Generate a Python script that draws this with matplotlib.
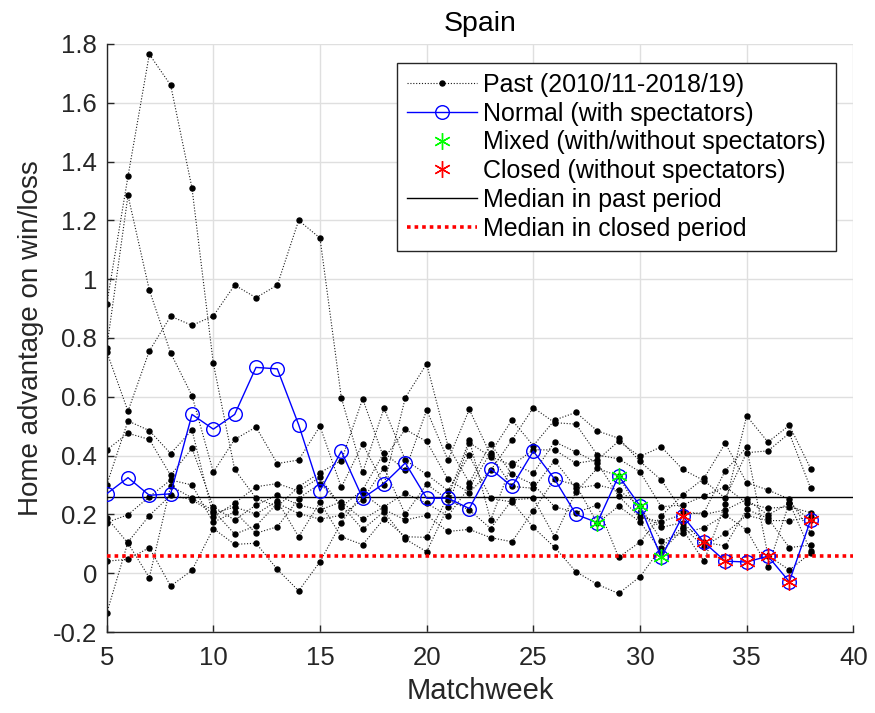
import matplotlib
matplotlib.use("Agg")
import matplotlib.pyplot as plt
from matplotlib.ticker import FuncFormatter

plt.rcParams['font.family'] = ['Liberation Sans', 'DejaVu Sans']

matchweeks = list(range(5, 39))

# Past seasons 2010/11 - 2018/19
past_s0 = [0.914, 1.35, 1.765, 1.66, 1.31, 0.714, 0.353, 0.255, 0.226, 0.294, 0.342, 0.383, 0.593, 0.39, 0.489, 0.448, 0.319,
           0.274, 0.35, 0.453, 0.563, 0.512, 0.507, 0.402, 0.389, 0.345, 0.226, 0.232, 0.263, 0.294, 0.238, 0.221, 0.226, 0.206]
past_s1 = [0.754, 0.551, 0.756, 0.874, 0.843, 0.875, 0.98, 0.937, 0.98, 1.2, 1.14, 0.597, 0.343, 0.561, 0.385, 0.336, 0.281,
           0.401, 0.255, 0.242, 0.156, 0.088, 0.005, -0.038, -0.069, -0.012, 0.087, 0.158, 0.09, 0.136, 0.197, 0.179, 0.179, 0.19]
past_s2 = [0.765, 1.285, 0.963, 0.749, 0.604, 0.344, 0.455, 0.497, 0.373, 0.385, 0.50, 0.292, 0.44, 0.30, 0.597, 0.712, 0.433,
           0.308, 0.44, 0.336, 0.302, 0.226, 0.206, 0.232, 0.054, 0.106, 0.195, 0.266, 0.323, 0.442, 0.308, 0.283, 0.252, 0.138]
past_s3 = [0.419, 0.476, 0.455, 0.333, 0.425, 0.226, 0.181, 0.232, 0.266, 0.232, 0.215, 0.243, 0.183, 0.226, 0.272, 0.238, 0.195,
           0.292, 0.41, 0.521, 0.434, 0.521, 0.547, 0.484, 0.459, 0.38, 0.317, 0.21, 0.20, 0.215, 0.251, 0.198, 0.238, 0.18]
past_s4 = [0.30, 0.518, 0.485, 0.407, 0.487, 0.192, 0.238, 0.294, 0.305, 0.28, 0.326, 0.226, 0.283, 0.41, 0.35, 0.555, 0.385,
           0.557, 0.402, 0.295, 0.289, 0.383, 0.289, 0.30, 0.283, 0.228, 0.111, 0.136, 0.155, 0.198, 0.147, 0.02, 0.24, 0.075]
past_s5 = [0.189, 0.102, -0.015, 0.297, 0.256, 0.213, 0.133, 0.161, 0.238, 0.203, 0.184, 0.197, 0.25, 0.359, 0.20, 0.303, 0.25,
           0.215, 0.152, 0.249, 0.255, 0.124, 0.277, 0.357, 0.33, 0.206, 0.156, 0.172, 0.105, 0.093, 0.217, 0.187, 0.087, 0.096]
past_s6 = [0.172, 0.199, 0.26, 0.317, 0.30, 0.173, 0.209, 0.136, 0.158, 0.254, 0.305, 0.232, 0.149, 0.209, 0.116, 0.073, 0.226,
           0.444, 0.396, 0.367, 0.42, 0.419, 0.374, 0.385, 0.449, 0.397, 0.43, 0.353, 0.315, 0.255, 0.41, 0.416, 0.476, 0.289]
past_s7 = [0.041, 0.047, 0.087, -0.044, 0.01, 0.152, 0.098, 0.102, 0.013, -0.06, 0.039, 0.172, 0.272, 0.217, 0.181, 0.197, 0.142,
           0.149, 0.121, 0.107, 0.213, 0.32, 0.30, 0.17, 0.228, 0.175, 0.073, 0.149, 0.041, 0.235, 0.535, 0.446, 0.503, 0.356]
past_s8 = [-0.137, 0.106, 0.196, 0.265, 0.25, 0.204, 0.225, 0.201, 0.246, 0.124, 0.241, 0.124, 0.097, 0.185, 0.124, 0.122, 0.26,
           0.453, 0.18, 0.374, 0.34, 0.447, 0.412, 0.376, 0.262, 0.19, 0.175, 0.20, 0.206, 0.349, 0.428, 0.06, 0.011, 0.068]
past_seasons = [past_s0, past_s1, past_s2, past_s3, past_s4, past_s5, past_s6, past_s7, past_s8]

# Current season 2019/20
current = [0.27, 0.325, 0.265, 0.27, 0.54, 0.49, 0.54, 0.70, 0.695, 0.505, 0.28, 0.415, 0.255, 0.305, 0.375, 0.255, 0.255,
           0.22, 0.355, 0.295, 0.415, 0.32, 0.20, 0.172, 0.331, 0.229, 0.054, 0.195, 0.105, 0.041, 0.038, 0.058, -0.029, 0.181]
mixed_weeks = [28, 29, 30, 31]
closed_weeks = [32, 33, 34, 35, 36, 37, 38]

past_median = 0.259

fig = plt.figure(figsize=(8.75, 7.13), dpi=100)
ax = fig.add_axes([0.1219, 0.1136, 0.8533, 0.8247])

dark = '#262626'
for i, s in enumerate(past_seasons):
    ax.plot(matchweeks, s, color='#1a1a1a', lw=0.8, linestyle=(0, (1, 1.6)), marker='o', ms=3.6,
            mfc='black', mec='black', zorder=2, label='Past (2010/11-2018/19)' if i == 0 else None)

ax.plot(matchweeks, current, color='blue', lw=1.0, marker='o', ms=9.8, mfc='none', mec='blue', mew=1.0,
        zorder=4, label='Normal (with spectators)')

mixed_vals = [current[matchweeks.index(w)] for w in mixed_weeks]
closed_vals = [current[matchweeks.index(w)] for w in closed_weeks]
ast = (6, 2, 0)
ax.plot(mixed_weeks, mixed_vals, ls='none', marker=ast, ms=12, mew=1.0, color='#00ff00', zorder=5,
        label='Mixed (with/without spectators)')
ax.plot(closed_weeks, closed_vals, ls='none', marker=ast, ms=12, mew=1.0, color='#ff0000', zorder=5,
        label='Closed (without spectators)')

closed_sorted = sorted(closed_vals)
closed_median = closed_sorted[len(closed_sorted) // 2]

ax.axhline(past_median, color='black', lw=1.0, zorder=3, label='Median in past period')
ax.axhline(closed_median, color='red', lw=2.6, linestyle=(0, (1, 1.1)), zorder=3, label='Median in closed period')

ax.set_xlim(5, 40)
ax.set_ylim(-0.2, 1.8)
ax.set_xticks([5, 10, 15, 20, 25, 30, 35, 40])
ax.set_yticks([-0.2 + 0.2 * k for k in range(11)])
ax.yaxis.set_major_formatter(FuncFormatter(lambda v, p: f"{round(v, 1):g}" if abs(v) > 1e-9 else "0"))

ax.grid(True, color='#dfdfdf', lw=1.0, zorder=0)
ax.set_axisbelow(True)
for side in ['top', 'right']:
    ax.spines[side].set_visible(False)
for side in ['left', 'bottom']:
    ax.spines[side].set_color(dark)
    ax.spines[side].set_linewidth(1.0)
ax.tick_params(direction='in', length=5, width=1.0, color=dark, labelcolor=dark, labelsize=18.5)
ax.tick_params(axis='x', pad=10)
ax.tick_params(axis='y', pad=7)

ax.set_xlabel('Matchweek', fontsize=21, color=dark, labelpad=5)
ax.set_ylabel('Home advantage on win/loss', fontsize=20, color=dark, labelpad=6)
ax.set_title('Spain', fontsize=20.5, color='black', pad=9)

leg = ax.legend(loc='upper right', bbox_to_anchor=(0.9767, 0.968), borderaxespad=0, fontsize=18,
                frameon=True, fancybox=False, framealpha=1, edgecolor='#262626', handlelength=2.8,
                handletextpad=0.25, labelspacing=0.19, borderpad=0.4)
leg.get_frame().set_linewidth(1.0)

fig.savefig('out.png', dpi=100)
